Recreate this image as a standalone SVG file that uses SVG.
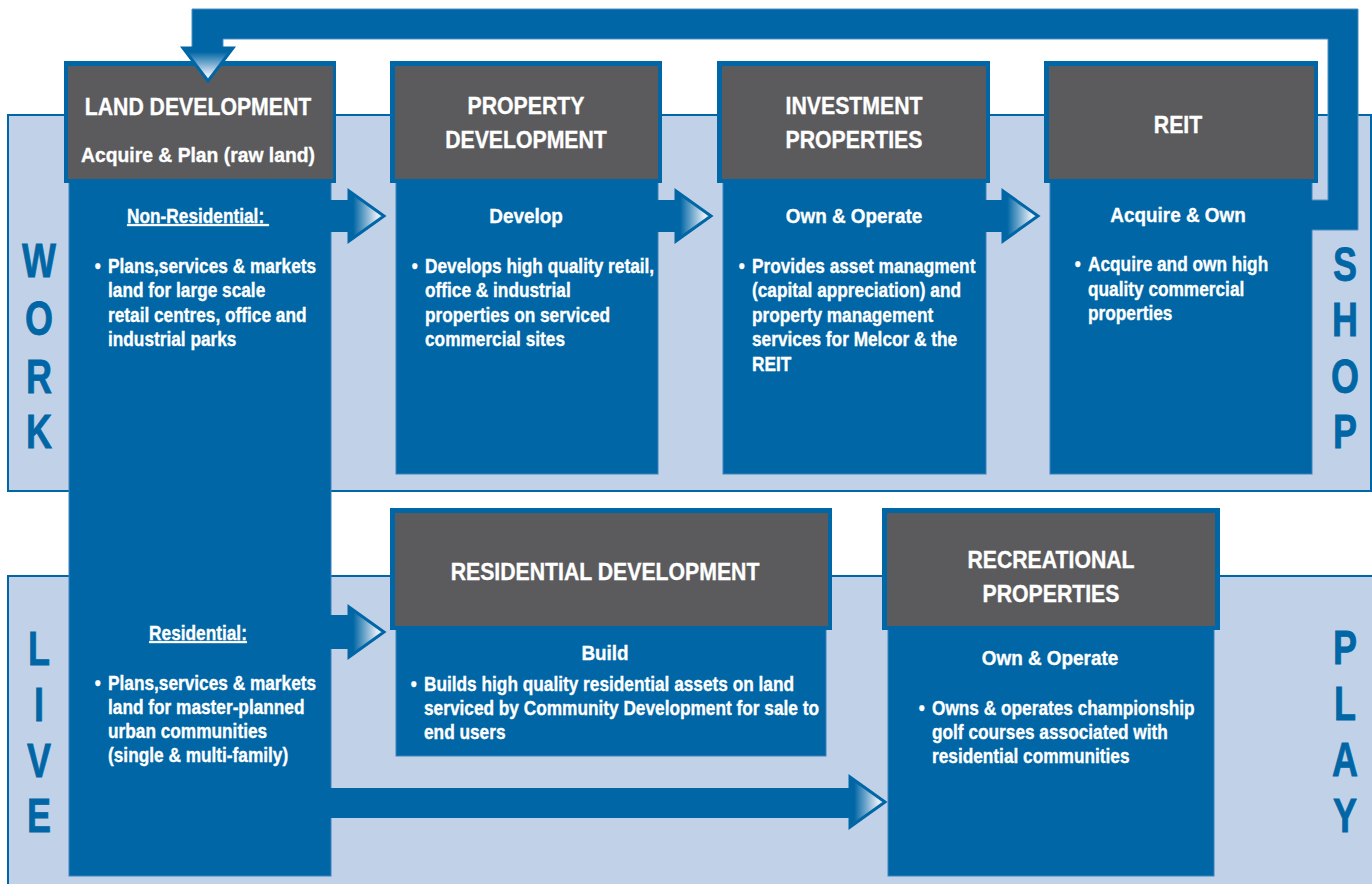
<svg xmlns="http://www.w3.org/2000/svg" width="1372" height="884" viewBox="0 0 1372 884">
<style>
.blue{fill:#0066a5}
.gray{fill:#5b5b5d}
.body{fill:#0066a5;stroke:#3d83bd;stroke-width:1}
.band{fill:#c1d2e8;stroke:#0066a5;stroke-width:2}
.t{font-family:"Liberation Sans",Arial,sans-serif;font-weight:bold;fill:#ffffff;stroke:#ffffff;stroke-width:0.35}
.h{font-size:24px;text-anchor:middle}
.s{font-size:21px;text-anchor:middle}
.b{font-size:19.5px}
.u{font-size:19.5px;text-anchor:middle;text-decoration:underline}
.side{font-family:"Liberation Sans",Arial,sans-serif;font-weight:bold;font-size:48px;fill:#0066a5;stroke:#0066a5;stroke-width:0.8;text-anchor:middle}
.ah{stroke:#0066a5;stroke-width:3;stroke-linejoin:miter}
.shaft{fill:#0066a5}
.loop{fill:#0066a5}
.loopedge{fill:none;stroke:#4f8dc4;stroke-width:1}
</style>
<defs>
<linearGradient id="gh" x1="0" y1="0" x2="1" y2="0">
<stop offset="0.12" stop-color="#0066a5"/>
<stop offset="0.8" stop-color="#e2eaf5"/>
<stop offset="1" stop-color="#e2eaf5"/>
</linearGradient>
<linearGradient id="gv" x1="0" y1="0" x2="0" y2="1">
<stop offset="0.12" stop-color="#0066a5"/>
<stop offset="0.8" stop-color="#e2eaf5"/>
<stop offset="1" stop-color="#e2eaf5"/>
</linearGradient>
</defs>
<rect width="1372" height="884" fill="#ffffff"/>

<g id="bands">
<rect class="band" x="8" y="115" width="1363" height="376"/>
<rect class="band" x="8" y="576" width="1366" height="312"/>
<g transform="translate(39,0) scale(0.75,1)">
<text class="side" x="0" y="277">W</text>
<text class="side" x="0" y="335">O</text>
<text class="side" x="0" y="393">R</text>
<text class="side" x="0" y="448">K</text>
<text class="side" x="0" y="665">L</text>
<text class="side" x="0" y="721">I</text>
<text class="side" x="0" y="777">V</text>
<text class="side" x="0" y="832">E</text>
</g>
<g transform="translate(1345,0) scale(0.75,1)">
<text class="side" x="0" y="281">S</text>
<text class="side" x="0" y="336">H</text>
<text class="side" x="0" y="393">O</text>
<text class="side" x="0" y="448">P</text>
<text class="side" x="0" y="664">P</text>
<text class="side" x="0" y="720">L</text>
<text class="side" x="0" y="776">A</text>
<text class="side" x="0" y="832">Y</text>
</g>
</g>

<g id="land-development">
<rect class="body" x="69" y="182" width="262" height="694"/>
<rect class="blue" x="64" y="61" width="272" height="122"/>
<rect class="gray" x="68" y="66" width="265" height="113"/>
<text class="t h" transform="translate(198,115) scale(0.885,1)">LAND DEVELOPMENT</text>
<text class="t s" transform="translate(198,162) scale(0.92,1)">Acquire &amp; Plan (raw land)</text>
<text class="t u" transform="translate(198,223) scale(0.885,1)">Non-Residential:&#160;</text>
<g transform="translate(108,0) scale(0.885,1)">
<text class="t b" x="-15" y="273">•</text>
<text class="t b" x="0" y="273">Plans,services &amp; markets</text>
<text class="t b" x="0" y="297">land for large scale</text>
<text class="t b" x="0" y="322">retail centres, office and</text>
<text class="t b" x="0" y="346">industrial parks</text>
</g>
<text class="t u" transform="translate(198,640) scale(0.885,1)">Residential:</text>
<g transform="translate(108,0) scale(0.885,1)">
<text class="t b" x="-15" y="690">•</text>
<text class="t b" x="0" y="690">Plans,services &amp; markets</text>
<text class="t b" x="0" y="714">land for master-planned</text>
<text class="t b" x="0" y="738">urban communities</text>
<text class="t b" x="0" y="762">(single &amp; multi-family)</text>
</g>
</g>

<g id="property-development">
<rect class="body" x="396" y="182" width="262" height="292"/>
<rect class="blue" x="390" y="61" width="272" height="122"/>
<rect class="gray" x="395" y="66" width="263" height="113"/>
<text class="t h" transform="translate(526,114) scale(0.885,1)">PROPERTY</text>
<text class="t h" transform="translate(526,148) scale(0.885,1)">DEVELOPMENT</text>
<text class="t s" transform="translate(526,223) scale(0.9,1)">Develop</text>
<g transform="translate(425,0) scale(0.885,1)">
<text class="t b" x="-15" y="273">•</text>
<text class="t b" x="0" y="273">Develops high quality retail,</text>
<text class="t b" x="0" y="297">office &amp; industrial</text>
<text class="t b" x="0" y="322">properties on serviced</text>
<text class="t b" x="0" y="346">commercial sites</text>
</g>
</g>

<g id="investment-properties">
<rect class="body" x="723" y="182" width="263" height="292"/>
<rect class="blue" x="717" y="61" width="273" height="122"/>
<rect class="gray" x="722" y="66" width="264" height="113"/>
<text class="t h" transform="translate(854,114) scale(0.885,1)">INVESTMENT</text>
<text class="t h" transform="translate(854,148) scale(0.885,1)">PROPERTIES</text>
<text class="t s" transform="translate(854,223) scale(0.9,1)">Own &amp; Operate</text>
<g transform="translate(752,0) scale(0.885,1)">
<text class="t b" x="-15" y="273">•</text>
<text class="t b" x="0" y="273">Provides asset managment</text>
<text class="t b" x="0" y="297">(capital appreciation) and</text>
<text class="t b" x="0" y="322">property management</text>
<text class="t b" x="0" y="346">services for Melcor &amp; the</text>
<text class="t b" x="0" y="371">REIT</text>
</g>
</g>

<g id="reit">
<rect class="body" x="1050" y="182" width="262" height="292"/>
<rect class="blue" x="1044" y="61" width="274" height="122"/>
<rect class="gray" x="1049" y="66" width="265" height="113"/>
<text class="t h" transform="translate(1178,133) scale(0.885,1)">REIT</text>
<text class="t s" transform="translate(1178,222) scale(0.9,1)">Acquire &amp; Own</text>
<g transform="translate(1088,0) scale(0.885,1)">
<text class="t b" x="-15" y="271">•</text>
<text class="t b" x="0" y="271">Acquire and own high</text>
<text class="t b" x="0" y="296">quality commercial</text>
<text class="t b" x="0" y="320">properties</text>
</g>
</g>

<g id="residential-development">
<rect class="body" x="396" y="629" width="430" height="127"/>
<rect class="blue" x="390" y="508" width="442" height="122"/>
<rect class="gray" x="395" y="513" width="433" height="113"/>
<text class="t h" transform="translate(605,580) scale(0.885,1)">RESIDENTIAL DEVELOPMENT</text>
<text class="t s" transform="translate(605,660) scale(0.9,1)">Build</text>
<g transform="translate(424,0) scale(0.885,1)">
<text class="t b" x="-15" y="691">•</text>
<text class="t b" x="0" y="691">Builds high quality residential assets on land</text>
<text class="t b" x="0" y="715">serviced by Community Development for sale to</text>
<text class="t b" x="0" y="739">end users</text>
</g>
</g>

<g id="recreational-properties">
<rect class="body" x="888" y="629" width="326" height="247"/>
<rect class="blue" x="882" y="508" width="338" height="122"/>
<rect class="gray" x="887" y="513" width="328" height="113"/>
<text class="t h" transform="translate(1051,568) scale(0.885,1)">RECREATIONAL</text>
<text class="t h" transform="translate(1051,602) scale(0.885,1)">PROPERTIES</text>
<text class="t s" transform="translate(1050,665) scale(0.9,1)">Own &amp; Operate</text>
<g transform="translate(932,0) scale(0.885,1)">
<text class="t b" x="-15" y="715">•</text>
<text class="t b" x="0" y="715">Owns &amp; operates championship</text>
<text class="t b" x="0" y="739">golf courses associated with</text>
<text class="t b" x="0" y="763">residential communities</text>
</g>
</g>

<g id="connectors">
<polygon class="loop" points="1311,200 1328,200 1328,39 223,39 223,48 192,48 192,9 1358,9 1358,230 1311,230"/>
<polyline class="loopedge" points="1312,200 1328,200 1328,39 223,39 223,48"/>
<polyline class="loopedge" points="192,48 192,9 1358,9 1358,230 1312,230"/>
<polygon class="ah" fill="url(#gv)" points="183,48 233,48 208,81"/>
<rect class="shaft" x="330" y="200" width="21" height="32"/>
<polygon class="ah" fill="url(#gh)" points="349,191 384,216 349,241"/>
<rect class="shaft" x="657" y="200" width="21" height="32"/>
<polygon class="ah" fill="url(#gh)" points="676,191 711,216 676,241"/>
<rect class="shaft" x="985" y="200" width="20" height="32"/>
<polygon class="ah" fill="url(#gh)" points="1003,191 1038,216 1003,241"/>
<rect class="shaft" x="330" y="615" width="21" height="34"/>
<polygon class="ah" fill="url(#gh)" points="349,607 384,632 349,657"/>
<rect class="shaft" x="330" y="788" width="522" height="30"/>
<polygon class="ah" fill="url(#gh)" points="850,777 885,802 850,827"/>
</g>
</svg>
